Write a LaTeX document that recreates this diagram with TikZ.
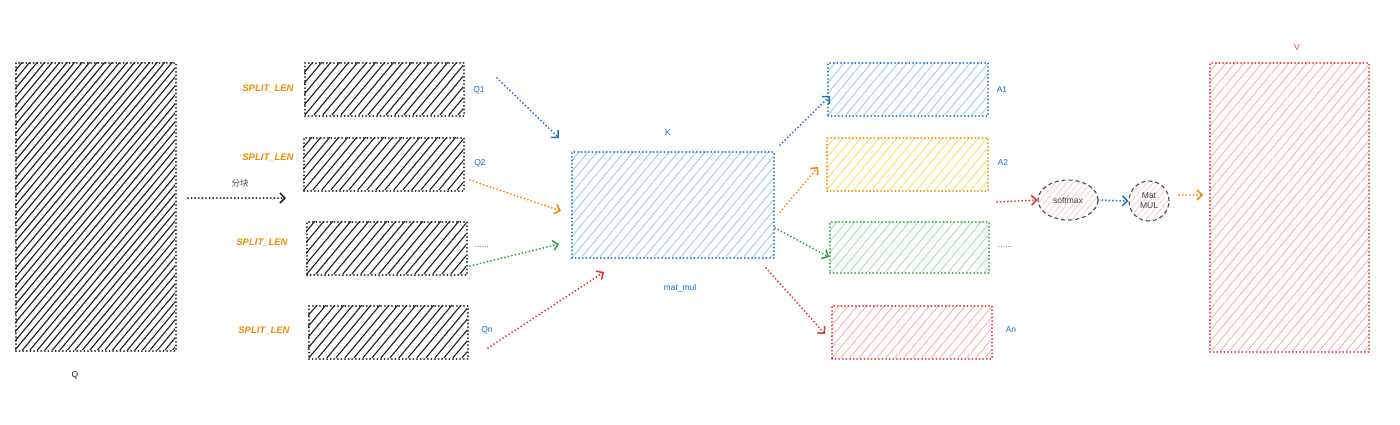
\documentclass[tikz,border=0pt]{standalone}
\usepackage{fontspec}
\setmainfont{Liberation Sans}
\newfontfamily\cjk{Noto Sans CJK SC}
\usetikzlibrary{arrows.meta,shapes.geometric}
\definecolor{ink}{HTML}{1E1E1E}
\definecolor{cblue}{HTML}{1971C2}
\definecolor{corange}{HTML}{F08C00}
\definecolor{cgreen}{HTML}{2F9E44}
\definecolor{cred}{HTML}{E03131}
\definecolor{lblue}{HTML}{8CCBF5}
\definecolor{lyellow}{HTML}{FFDA4D}
\definecolor{lgreen}{HTML}{8CE99A}
\definecolor{lred}{HTML}{FFA8A8}
\definecolor{lpink}{HTML}{F3C4C4}
\tikzset{
  dotline/.style={line width=2pt, dash pattern=on 0pt off 3.6pt, line cap=round},
  hbox/.style={dotline, draw=#1, inner sep=0pt, anchor=north west, rectangle},
  conn/.style={dotline, draw=#1, -{Straight Barb[length=5pt,width=10pt,line width=1.5pt]}},
  lab/.style={font=\fontsize{8.5}{9}\selectfont, text=#1, inner sep=1pt},
  splab/.style={font=\fontsize{9.5}{10}\selectfont\bfseries\itshape, text=corange, inner sep=1pt},
  oval/.style={ellipse, draw=ink!80, line width=1.1pt, dash pattern=on 4pt off 3pt, inner sep=0pt,
     font=\fontsize{8.5}{10}\selectfont, text=ink!85, align=center}
}
% x y w h color spacing width
\newcommand\hatchlines[7]{%
  \begin{scope}
  \clip (#1,#2) rectangle ++(#3,#4);
  \pgfmathsetmacro\hstart{#1-#4/1.2}
  \pgfmathsetmacro\hsec{\hstart+#6}
  \pgfmathsetmacro\hend{#1+#3}
  \foreach \u in {\hstart,\hsec,...,\hend}
    \draw[#5, line width=#7] (\u,#2+#4) -- ++(#4/1.2,-#4);
  \end{scope}}
\newcommand\hatchoval[6]{% cx cy rx ry color spacing
  \begin{scope}
  \clip (#1,#2) ellipse [x radius=#3, y radius=#4];
  \pgfmathsetmacro\hstart{#1-#3-#4}
  \pgfmathsetmacro\hsec{\hstart+#6}
  \pgfmathsetmacro\hend{#1+#3}
  \foreach \u in {\hstart,\hsec,...,\hend}
    \draw[#5, line width=0.6pt] (\u,#2+#4) -- ++(2*#4/1.2,-2*#4);
  \end{scope}}
\begin{document}
\begin{tikzpicture}[x=1pt,y=-1pt]
\useasboundingbox (0,0) rectangle (1400,424);
\fill[white] (0,0) rectangle (1400,424);

% Q
\hatchlines{15}{62}{160}{288}{ink}{7.5}{1.1pt}
\node[hbox=ink, minimum width=160pt, minimum height=288pt] (Q) at (15,62) {};
\node[lab=ink] (Qlab) at (75,375) {Q};

% split arrow
\coordinate (s0) at (188,198);
\coordinate (s1) at (286,198);
\draw[conn=ink] (s0) -- (s1);
\node[font=\cjk\fontsize{8.5}{9}\selectfont, text=ink!80] (splitlab) at (240,183) {分块};

% chunks
\hatchlines{304}{62}{159}{53}{ink}{9}{1.1pt}
\hatchlines{303}{137}{160}{53}{ink}{9}{1.1pt}
\hatchlines{306}{221}{160}{53}{ink}{9}{1.1pt}
\hatchlines{308}{305}{159}{53}{ink}{9}{1.1pt}
\node[hbox=ink, minimum width=159pt, minimum height=53pt] (Q1) at (304,62) {};
\node[hbox=ink, minimum width=160pt, minimum height=53pt] (Q2) at (303,137) {};
\node[hbox=ink, minimum width=160pt, minimum height=53pt] (Q3) at (306,221) {};
\node[hbox=ink, minimum width=159pt, minimum height=53pt] (Q4) at (308,305) {};

\node[splab] (sl1) at (268,89) {SPLIT\_LEN};
\node[splab] (sl2) at (268,158) {SPLIT\_LEN};
\node[splab] (sl3) at (262,243) {SPLIT\_LEN};
\node[splab] (sl4) at (264,331) {SPLIT\_LEN};

\node[lab=cblue] (q1l) at (479,90) {Q1};
\node[lab=cblue] (q2l) at (480,163) {Q2};
\node[lab=cblue] (q3l) at (482,247) {......};
\node[lab=cblue] (q4l) at (487,330) {Qn};

% K
\hatchlines{571}{151}{202}{106}{lblue}{9}{0.8pt}
\node[hbox=cblue, minimum width=202pt, minimum height=106pt] (K) at (571,151) {};
\node[lab=cblue] (Klab) at (668,133) {K};
\node[lab=cblue] (mm) at (680,288) {mat\_mul};

\coordinate (a1s) at (497,78);  \coordinate (a1e) at (559,138);
\coordinate (a2s) at (470,180); \coordinate (a2e) at (561,211);
\coordinate (a3s) at (470,266); \coordinate (a3e) at (559,244);
\coordinate (a4s) at (488,348); \coordinate (a4e) at (604,272);
\draw[conn=cblue] (a1s) -- (a1e);
\draw[conn=corange] (a2s) -- (a2e);
\draw[conn=cgreen] (a3s) -- (a3e);
\draw[conn=cred] (a4s) -- (a4e);

% A
\hatchlines{827}{62}{160}{53}{lblue}{9}{0.8pt}
\hatchlines{826}{137}{161}{53}{lyellow}{9}{0.8pt}
\hatchlines{829}{221}{159}{51}{lgreen}{9}{0.8pt}
\hatchlines{831}{305}{160}{53}{lred}{9}{0.8pt}
\node[hbox=cblue, minimum width=160pt, minimum height=53pt] (A1) at (827,62) {};
\node[hbox=corange, minimum width=161pt, minimum height=53pt] (A2) at (826,137) {};
\node[hbox=cgreen, minimum width=159pt, minimum height=51pt] (A3) at (829,221) {};
\node[hbox=cred, minimum width=160pt, minimum height=53pt] (A4) at (831,305) {};

\node[lab=cblue] (a1l) at (1002,90) {A1};
\node[lab=cblue] (a2l) at (1003,163) {A2};
\node[lab=cblue] (a3l) at (1005,247) {......};
\node[lab=cblue] (a4l) at (1011,330) {An};

\coordinate (b1s) at (780,145); \coordinate (b1e) at (830,96);
\coordinate (b2s) at (780,212); \coordinate (b2e) at (818,167);
\coordinate (b3s) at (775,228); \coordinate (b3e) at (829,257);
\coordinate (b4s) at (766,268); \coordinate (b4e) at (825,334);
\draw[conn=cblue] (b1s) -- (b1e);
\draw[conn=corange] (b2s) -- (b2e);
\draw[conn=cgreen] (b3s) -- (b3e);
\draw[conn=cred] (b4s) -- (b4e);

% softmax / Mat MUL
\hatchoval{1068}{200}{30}{20}{lpink}{6}
\hatchoval{1149}{201}{20}{20}{lpink}{6}
\node[oval, minimum width=60pt, minimum height=40pt] (sm) at (1068,200) {softmax};
\node[oval, minimum width=40pt, minimum height=40pt] (mat) at (1149,201) {Mat\\MUL};
\coordinate (c0) at (997,202);
\draw[conn=cred] (c0) -- (sm.west);
\draw[conn=cblue] (sm.east) -- (mat.west);
\coordinate (c1) at (1179,195); \coordinate (c2) at (1203,195);
\draw[conn=corange] (c1) -- (c2);

% V
\hatchlines{1209}{62}{159}{289}{lred}{9}{0.8pt}
\node[hbox=cred, minimum width=159pt, minimum height=289pt] (V) at (1209,62) {};
\node[lab=cred] (Vlab) at (1297,48) {V};
\end{tikzpicture}
\end{document}
